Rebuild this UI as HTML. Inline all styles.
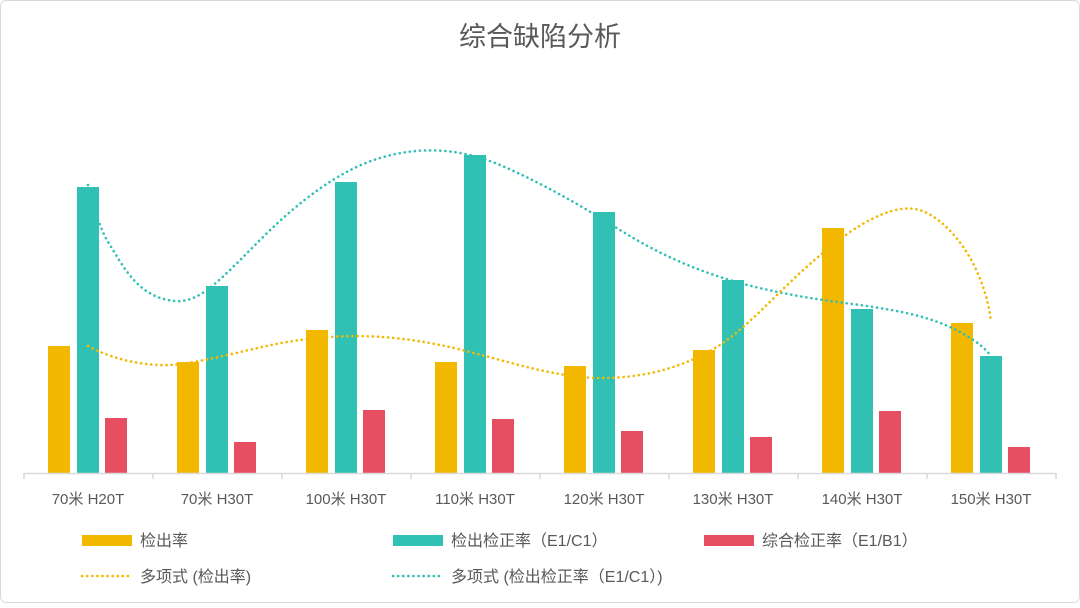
<!DOCTYPE html>
<html><head><meta charset="utf-8"><style>
body{margin:0;background:#fff;}
svg text{font-family:"Liberation Sans","Noto Sans CJK SC",sans-serif;fill:#595959;}
</style></head><body>
<svg width="1080" height="603" xmlns="http://www.w3.org/2000/svg">
<rect x="0.5" y="0.5" width="1079" height="602" rx="6" fill="#fff" stroke="#d9d9d9"/>
<text x="540" y="46" font-size="27" text-anchor="middle">综合缺陷分析</text>
<g id="bars">
<rect x="48" y="346" width="22" height="127" fill="#F2B800"/><rect x="77" y="187" width="22" height="286" fill="#30C1B4"/><rect x="105" y="418" width="22" height="55" fill="#E64E61"/>
<rect x="177" y="362" width="22" height="111" fill="#F2B800"/><rect x="206" y="286" width="22" height="187" fill="#30C1B4"/><rect x="234" y="442" width="22" height="31" fill="#E64E61"/>
<rect x="306" y="330" width="22" height="143" fill="#F2B800"/><rect x="335" y="182" width="22" height="291" fill="#30C1B4"/><rect x="363" y="410" width="22" height="63" fill="#E64E61"/>
<rect x="435" y="362" width="22" height="111" fill="#F2B800"/><rect x="464" y="155" width="22" height="318" fill="#30C1B4"/><rect x="492" y="419" width="22" height="54" fill="#E64E61"/>
<rect x="564" y="366" width="22" height="107" fill="#F2B800"/><rect x="593" y="212" width="22" height="261" fill="#30C1B4"/><rect x="621" y="431" width="22" height="42" fill="#E64E61"/>
<rect x="693" y="350" width="22" height="123" fill="#F2B800"/><rect x="722" y="280" width="22" height="193" fill="#30C1B4"/><rect x="750" y="437" width="22" height="36" fill="#E64E61"/>
<rect x="822" y="228" width="22" height="245" fill="#F2B800"/><rect x="851" y="309" width="22" height="164" fill="#30C1B4"/><rect x="879" y="411" width="22" height="62" fill="#E64E61"/>
<rect x="951" y="323" width="22" height="150" fill="#F2B800"/><rect x="980" y="356" width="22" height="117" fill="#30C1B4"/><rect x="1008" y="447" width="22" height="26" fill="#E64E61"/>
</g>
<line x1="24" y1="473.5" x2="1056" y2="473.5" stroke="#d9d9d9" stroke-width="1.5"/>
<g stroke="#d9d9d9" stroke-width="1.5">
<line x1="24" y1="473" x2="24" y2="479"/><line x1="153" y1="473" x2="153" y2="479"/><line x1="282" y1="473" x2="282" y2="479"/><line x1="411" y1="473" x2="411" y2="479"/><line x1="540" y1="473" x2="540" y2="479"/><line x1="669" y1="473" x2="669" y2="479"/><line x1="798" y1="473" x2="798" y2="479"/><line x1="927" y1="473" x2="927" y2="479"/><line x1="1056" y1="473" x2="1056" y2="479"/>
</g>
<path d="M88,185 C95,210 100,230 110,245 C125,270 140,298 175,301 C200,303 220,280 260,240 C300,200 340,170 380,158 C420,146 460,148 500,165 C540,182 580,205 620,230 C660,255 700,272 740,283 C780,294 820,300 860,305 C900,311 930,316 960,332 C975,340 985,348 991,356" fill="none" stroke="#30C1B4" stroke-width="2.6" stroke-dasharray="0.1 5" stroke-linecap="round"/>
<path d="M88,346 C110,358 140,366 170,365 C210,362 260,345 300,340 C340,335 380,333 440,345 C490,355 550,378 600,378 C640,378 680,370 720,345 C760,318 790,275 850,232 C880,212 905,203 925,212 C955,226 985,270 991,322" fill="none" stroke="#F2B800" stroke-width="2.6" stroke-dasharray="0.1 5" stroke-linecap="round"/>
<g font-size="15" text-anchor="middle">
<text x="88" y="504">70米 H20T</text><text x="217" y="504">70米 H30T</text><text x="346" y="504">100米 H30T</text><text x="475" y="504">110米 H30T</text><text x="604" y="504">120米 H30T</text><text x="733" y="504">130米 H30T</text><text x="862" y="504">140米 H30T</text><text x="991" y="504">150米 H30T</text>
</g>
<g font-size="16">
<rect x="82" y="535" width="50" height="11" fill="#F2B800"/><text x="140" y="546">检出率</text>
<rect x="393" y="535" width="50" height="11" fill="#30C1B4"/><text x="451" y="546">检出检正率（E1/C1）</text>
<rect x="704" y="535" width="50" height="11" fill="#E64E61"/><text x="762" y="546">综合检正率（E1/B1）</text>
<line x1="82" y1="576" x2="132" y2="576" stroke="#F2B800" stroke-width="2.6" stroke-dasharray="0.1 5" stroke-linecap="round"/><text x="140" y="582">多项式 (检出率)</text>
<line x1="393" y1="576" x2="443" y2="576" stroke="#30C1B4" stroke-width="2.6" stroke-dasharray="0.1 5" stroke-linecap="round"/><text x="451" y="582">多项式 (检出检正率（E1/C1）)</text>
</g>
</svg>
</body></html>
